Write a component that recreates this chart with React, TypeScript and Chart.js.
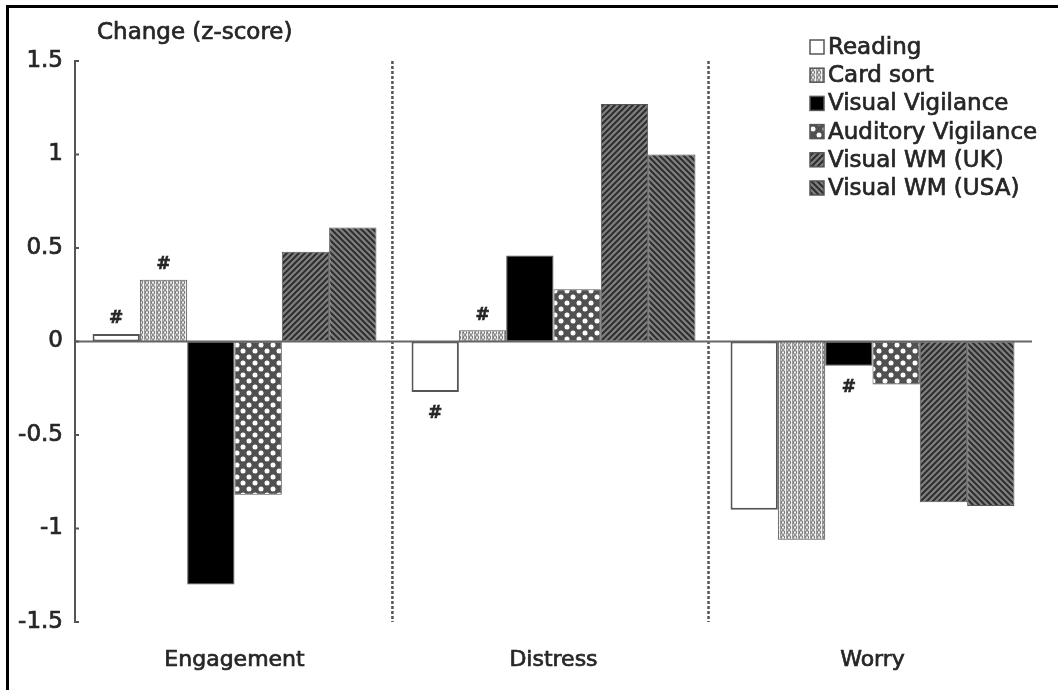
import React, { useEffect, useRef } from "react";
import { Chart, registerables } from "chart.js";

Chart.register(...registerables);

// ---------- data ----------
const categories = ["Engagement", "Distress", "Worry"];
const seriesNames = [
  "Reading",
  "Card sort",
  "Visual Vigilance",
  "Auditory Vigilance",
  "Visual WM (UK)",
  "Visual WM (USA)",
];
const reading = [0.04, -0.27, -0.9];
const cardSort = [0.33, 0.06, -1.06];
const visualVigilance = [-1.3, 0.46, -0.13];
const auditoryVigilance = [-0.82, 0.28, -0.23];
const visualWMUK = [0.48, 1.27, -0.86];
const visualWMUSA = [0.61, 1.0, -0.88];
// "#" significance markers per series, per category
const readingMarks = [true, true, false];
const cardSortMarks = [true, true, false];
const visualVigilanceMarks = [false, false, true];
const noMarks = [false, false, false];
const yTickValues = [-1.5, -1, -0.5, 0, 0.5, 1, 1.5];
const yTickLabels = ["-1.5", "-1", "-0.5", "0", "0.5", "1", "1.5"];
const separatorPositions = [0.495, 1.486];
const yAxisTitle = "Change (z-score)";

const FONT = "'DejaVu Sans', sans-serif";
const TEXT = "#262626";
const EDGE = "#555555";

function makeTile(w: number, h: number, draw: (c: CanvasRenderingContext2D) => void) {
  const cv = document.createElement("canvas");
  cv.width = w;
  cv.height = h;
  const c = cv.getContext("2d")!;
  draw(c);
  return c.createPattern(cv, "repeat") as CanvasPattern;
}

function buildFills() {
  const cardPat = makeTile(6, 5, (c) => {
    c.fillStyle = "#f4f4f4";
    c.fillRect(0, 0, 6, 5);
    c.strokeStyle = "#7a7a7a";
    c.lineWidth = 1.1;
    c.beginPath();
    c.ellipse(3, 2.5, 1.6, 1.9, 0, 0, Math.PI * 2);
    c.stroke();
    c.fillStyle = "#9a9a9a";
    c.fillRect(0, 0, 1, 5);
  });
  const audPat = makeTile(12, 12, (c) => {
    c.fillStyle = "#505050";
    c.fillRect(0, 0, 12, 12);
    c.fillStyle = "#ffffff";
    const dots = [
      [3, 3],
      [9, 9],
    ];
    dots.forEach(([x, y]) => {
      c.beginPath();
      c.arc(x, y, 2.5, 0, Math.PI * 2);
      c.fill();
    });
  });
  const stripe = (dir: number) =>
    makeTile(6, 6, (c) => {
      c.fillStyle = "#808080";
      c.fillRect(0, 0, 6, 6);
      c.strokeStyle = "#2e2e2e";
      c.lineWidth = 2;
      c.beginPath();
      if (dir > 0) {
        c.moveTo(-1, 7);
        c.lineTo(7, -1);
        c.moveTo(-4, 4);
        c.lineTo(4, -4);
        c.moveTo(2, 10);
        c.lineTo(10, 2);
      } else {
        c.moveTo(-1, -1);
        c.lineTo(7, 7);
        c.moveTo(-4, 2);
        c.lineTo(4, 10);
        c.moveTo(2, -4);
        c.lineTo(10, 4);
      }
      c.stroke();
    });
  return ["#ffffff", cardPat, "#000000", audPat, stripe(1), stripe(-1)];
}

function boldText(ctx: CanvasRenderingContext2D, s: string, x: number, y: number) {
  ctx.fillText(s, x, y);
  ctx.strokeText(s, x, y);
}

export default function App() {
  const ref = useRef<HTMLCanvasElement | null>(null);

  useEffect(() => {
    if (!ref.current) return;
    const fills = buildFills();
    const values = [reading, cardSort, visualVigilance, auditoryVigilance, visualWMUK, visualWMUSA];
    const marks = [readingMarks, cardSortMarks, visualVigilanceMarks, noMarks, noMarks, noMarks];

    const decor = {
      id: "decor",
      beforeDatasetsDraw(chart: any) {
        const { ctx } = chart;
        const xs = chart.scales.x;
        const ys = chart.scales.y;
        ctx.save();
        ctx.strokeStyle = "#555555";
        ctx.lineWidth = 2.5;
        ctx.setLineDash([3, 2]);
        separatorPositions.forEach((p) => {
          const x = xs.getPixelForValue(p);
          ctx.beginPath();
          ctx.moveTo(x, ys.getPixelForValue(1.5));
          ctx.lineTo(x, ys.getPixelForValue(-1.5));
          ctx.stroke();
        });
        ctx.restore();
      },
      afterDatasetsDraw(chart: any) {
        const { ctx } = chart;
        const ys = chart.scales.y;
        ctx.save();
        ctx.strokeStyle = "#666666";
        ctx.lineWidth = 2;
        ctx.beginPath();
        const y0 = ys.getPixelForValue(0);
        ctx.moveTo(chart.chartArea.left, y0);
        ctx.lineTo(chart.chartArea.right, y0);
        ctx.stroke();
        ctx.strokeStyle = EDGE;
        yTickValues.forEach((v) => {
          const y = ys.getPixelForValue(v);
          ctx.beginPath();
          ctx.moveTo(chart.chartArea.left, y);
          ctx.lineTo(chart.chartArea.left + 4, y);
          ctx.stroke();
        });
        ctx.fillStyle = TEXT;
        ctx.strokeStyle = TEXT;
        ctx.lineWidth = 0.6;
        ctx.font = `bold 17px ${FONT}`;
        ctx.textAlign = "center";
        ctx.textBaseline = "middle";
        marks.forEach((m, i) => {
          const meta = chart.getDatasetMeta(i);
          m.forEach((on, j) => {
            if (!on) return;
            const bar = meta.data[j];
            const v = values[i][j];
            const y = v >= 0 ? bar.y - 15 : bar.y + 22;
            boldText(ctx, "#", bar.x, y);
          });
        });
        ctx.restore();
      },
      afterDraw(chart: any) {
        const { ctx } = chart;
        ctx.save();
        ctx.fillStyle = TEXT;
        ctx.strokeStyle = TEXT;
        ctx.lineWidth = 0.7;
        ctx.font = `23px ${FONT}`;
        ctx.textAlign = "left";
        ctx.textBaseline = "middle";
        boldText(ctx, yAxisTitle, 97, 33);
        seriesNames.forEach((name, i) => {
          const y = 47 + i * 28.2;
          ctx.fillStyle = fills[i] as any;
          ctx.fillRect(810, y - 7, 14, 14);
          ctx.strokeStyle = EDGE;
          ctx.lineWidth = 1.5;
          ctx.strokeRect(810, y - 7, 14, 14);
          ctx.fillStyle = TEXT;
          ctx.strokeStyle = TEXT;
          ctx.lineWidth = 0.7;
          ctx.font = `23px ${FONT}`;
          boldText(ctx, name, 828, y + 1);
        });
        ctx.restore();
      },
    };

    const chart = new Chart(ref.current, {
      type: "bar",
      data: {
        labels: categories,
        datasets: seriesNames.map((name, i) => ({
          label: name,
          data: values[i],
          backgroundColor: fills[i] as any,
          borderColor: EDGE,
          borderWidth: i === 0 ? 2 : 1,
          borderSkipped: false,
          categoryPercentage: 0.89,
          barPercentage: 1.0,
        })),
      },
      options: {
        responsive: false,
        animation: false,
        layout: { padding: { top: 61, right: 26, bottom: 0, left: 0 } },
        plugins: {
          legend: { display: false },
          tooltip: { enabled: false },
          title: { display: false },
        },
        scales: {
          x: {
            grid: { display: false, drawTicks: false },
            border: { display: false },
            ticks: {
              color: TEXT,
              font: { family: FONT, size: 22 },
              padding: 25,
              textStrokeColor: TEXT,
              textStrokeWidth: 0.7,
            },
            afterFit: (s: any) => {
              s.height = 68;
            },
          },
          y: {
            min: -1.5,
            max: 1.5,
            grid: { display: false, drawTicks: false },
            border: { display: true, color: EDGE, width: 2 },
            afterBuildTicks: (s: any) => {
              s.ticks = yTickValues.map((v) => ({ value: v }));
            },
            ticks: {
              color: TEXT,
              font: { family: FONT, size: 23 },
              padding: 12,
              textStrokeColor: TEXT,
              textStrokeWidth: 0.7,
              callback: (v: any) => yTickLabels[yTickValues.indexOf(Number(v))] ?? String(v),
            },
            afterFit: (s: any) => {
              s.width = 75;
            },
          },
        },
      },
      plugins: [decor],
    });
    return () => chart.destroy();
  }, []);

  return (
    <div style={{ position: "absolute", left: 0, top: 0, width: 1058, height: 690, background: "#fff" }}>
      <div
        style={{
          position: "absolute",
          left: 6,
          top: 5,
          right: 0,
          bottom: 0,
          borderTop: "3px solid #000",
          borderLeft: "3px solid #000",
          pointerEvents: "none",
        }}
      />
      <canvas ref={ref} width={1058} height={690} style={{ position: "absolute", left: 0, top: 0 }} />
    </div>
  );
}
